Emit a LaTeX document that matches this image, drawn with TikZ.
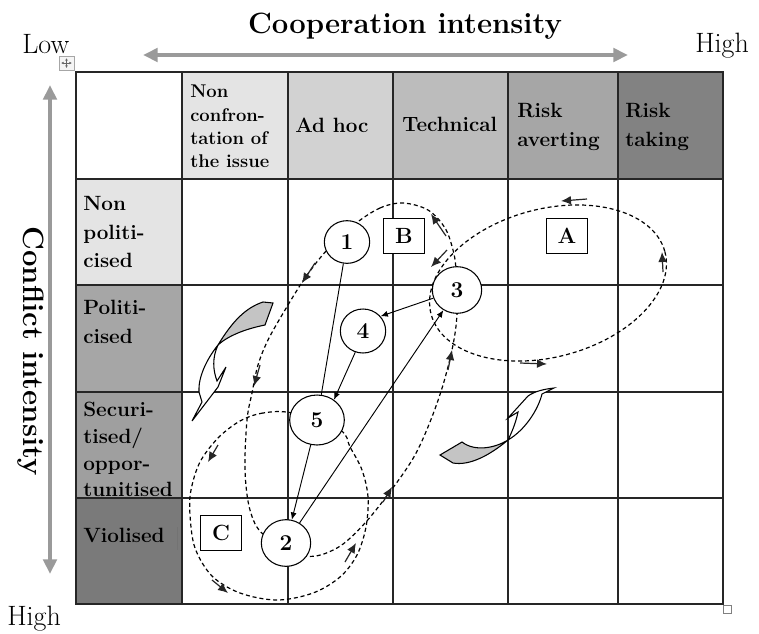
\documentclass[tikz,border=0pt]{standalone}
\usepackage{fontspec}
\usetikzlibrary{arrows.meta,shapes.geometric}
\definecolor{axisgray}{HTML}{9A9A9A}
\definecolor{lvlA}{HTML}{E4E4E4}
\definecolor{lvlB}{HTML}{D2D2D2}
\definecolor{lvlC}{HTML}{BCBCBC}
\definecolor{lvlD}{HTML}{A6A6A6}
\definecolor{lvlE}{HTML}{828282}
\definecolor{swoosh}{HTML}{C4C4C4}
\tikzset{
  gridline/.style={line width=1.1pt,black!85,line cap=rect},
  hdr/.style={font=\bfseries\fontsize{15.5}{22}\selectfont,align=left,anchor=north west,inner sep=0pt},
  stage/.style={ellipse,draw,fill=white,line width=0.8pt,inner sep=0pt,font=\bfseries\fontsize{17}{18}\selectfont},
  tagbox/.style={draw,fill=white,line width=1.2pt,minimum width=31pt,minimum height=26pt,inner sep=0pt,font=\bfseries\fontsize{16.5}{18}\selectfont},
  loopline/.style={line width=0.9pt,dash pattern=on 3pt off 2.2pt},
  looptip/.style={-{Latex[length=7.5pt,width=6.5pt]},line width=0.9pt,black!85},
  link/.style={line width=0.7pt},
  axisarrow/.style={{Triangle[length=11pt,width=10pt]}-{Triangle[length=11pt,width=10pt]},line width=3pt,axisgray}
}
\begin{document}
\begin{tikzpicture}[x=0.75pt,y=-0.75pt]
\useasboundingbox (0,0) rectangle (759,633);
\fill[white] (0,0) rectangle (759,633);
% shaded header cells
\foreach \xa/\xb/\c in {182/288/lvlA,288/393/lvlB,393/508/lvlC,508/618/lvlD,618/723/lvlE}
  \fill[\c] (\xa,72) rectangle (\xb,179);
\foreach \ya/\yb/\c in {179/285/lvlA,285/392/lvlD,392/498/lvlD!96!black,498/604/lvlE!94!black}
  \fill[\c] (76,\ya) rectangle (182,\yb);
\foreach \x in {76,182,288,393,508,618,723} \draw[gridline] (\x,72) -- (\x,604);
\foreach \y in {72,179,285,392,498,604} \draw[gridline] (76,\y) -- (723,\y);
% axes
\draw[axisarrow] (143,55) -- (628,55);
\draw[axisarrow] (50,85) -- (50,574);
\node[font=\bfseries\fontsize{22}{26}\selectfont,anchor=base,inner sep=0pt] (coop) at (405,33) {Cooperation intensity};
\node[font=\bfseries\fontsize{22}{26}\selectfont,anchor=base,inner sep=0pt,rotate=-90] (conf) at (23,351) {Conflict intensity};
\node[font=\fontsize{21}{24}\selectfont,anchor=base west,inner sep=0pt] (low) at (22,53) {Low};
\node[font=\fontsize{21}{24}\selectfont,anchor=base west,inner sep=0pt] (highC) at (695,52) {High};
\node[font=\fontsize{21}{24}\selectfont,anchor=base west,inner sep=0pt] (highK) at (7,625) {High};
% column and row headings
\node[hdr,font=\bfseries\fontsize{13.8}{17.5}\selectfont] (nonconf) at (190,85) {Non\\confron-\\tation of\\the issue};
\node[hdr] (adhoc) at (295,118) {Ad hoc};
\node[hdr] (technical) at (402,117) {Technical};
\node[hdr] (riskav) at (517,103) {Risk\\averting};
\node[hdr] (risktk) at (625,103) {Risk\\taking};
\node[hdr,font=\bfseries\fontsize{15.5}{21.5}\selectfont] (nonpol) at (83,196) {Non\\politi-\\cised};
\node[hdr,font=\bfseries\fontsize{15.5}{21.5}\selectfont] (pol) at (83,300) {Politi-\\cised};
\node[hdr,font=\bfseries\fontsize{15.5}{20}\selectfont] (sec) at (83,402) {Securi-\\tised/\\oppor-\\tunitised};
\node[hdr] (viol) at (83,528) {Violised};
\draw[black!55,line width=0.6pt] (177,527) -- (177,550);
% curved block arrows
\filldraw[fill=swoosh,line width=0.8pt] (218,345) .. controls (232,322) and (245,308) .. (263,302) -- (273,303) -- (265,325) .. controls (250,328) and (230,334) .. cycle;
\filldraw[fill=white,line width=0.8pt] (218,345) .. controls (206,360) and (198,378) .. (199,392) -- (202,402) -- (192,421) -- (218,387) -- (226,367) -- (217,381) .. controls (213,370) and (212,358) .. (218,345);
\filldraw[fill=swoosh,line width=0.8pt] (440,455) -- (462,442) .. controls (475,452) and (495,448) .. (508,440) .. controls (490,455) and (470,466) .. (453,463) -- cycle;
\filldraw[fill=white,line width=0.8pt] (508,440) .. controls (512,432) and (516,422) .. (518,412) -- (508,418) -- (528,396) .. controls (535,391) and (545,389) .. (554,388) -- (542,394) .. controls (538,410) and (525,430) .. (508,440);
% dashed cycles
\draw[loopline,rotate around={15:(548,283)}] (548,283) ellipse [x radius=121,y radius=74];
\draw[loopline] plot[smooth cycle,tension=0.55] coordinates {(355,224) (380,208) (403,203) (428,210) (445,228) (453,250) (456,270) (457,313) (453,345) (443,385) (430,422) (415,455) (395,485) (365,523) (337,548) (305,556) (264,535) (250,510) (245,470) (247,420) (252,393) (258,365) (268,340) (285,310) (305,278) (327,250)};
\draw[loopline] plot[smooth cycle,tension=0.55] coordinates {(292,413) (263,413) (240,421) (218,438) (200,462) (191,490) (190,515) (195,548) (212,576) (240,593) (277,600) (313,593) (340,577) (357,555) (366,527) (368,497) (362,470) (350,447) (340,430)};
% stages
\node[stage,minimum width=34pt,minimum height=32pt] (n1) at (347,242) {1};
\node[stage,minimum width=37pt,minimum height=35pt] (n2) at (286,543) {2};
\node[stage,minimum width=37pt,minimum height=35pt] (n3) at (457,290) {3};
\node[stage,minimum width=34pt,minimum height=33pt] (n4) at (363,331) {4};
\node[stage,minimum width=41pt,minimum height=37.5pt] (n5) at (317,420) {5};
\node[tagbox] (boxA) at (567,236) {A};
\node[tagbox] (boxB) at (404,236) {B};
\node[tagbox] (boxC) at (221,533) {C};
\draw[link] (n1) -- (n5);
\draw[link,-{Latex[length=5.5pt,width=4.5pt]}] (n5) -- (n2);
\draw[link,-{Latex[length=5.5pt,width=4.5pt]}] (n4.250) -- (n5.50);
\draw[link,-{Latex[length=5.5pt,width=4.5pt]}] (n3) -- (n4.40);
\draw[link,-{Latex[length=5.5pt,width=4.5pt]}] (n2) -- (n3);
% direction marks on the cycles
\foreach \xa/\ya/\xb/\yb in {587/199/561/201, 663/272/662/252, 520/363/547/364, 447/250/431/267,
  446/236/431/214, 315/263/302/283, 260/365/254/386, 383/502/392/487, 448/370/452/350,
  218/445/208/462, 212/580/228/593, 345/562/356/543}
  \draw[looptip] (\xa,\ya) -- (\xb,\yb);
% editor handles
\draw[black!35,fill=black!4,line width=0.5pt] (59,56) rectangle (74,70);
\draw[black!60,line width=0.4pt,{Latex[length=2pt,width=2pt]}-{Latex[length=2pt,width=2pt]}] (61,63) -- (72,63);
\draw[black!60,line width=0.4pt,{Latex[length=2pt,width=2pt]}-{Latex[length=2pt,width=2pt]}] (66.5,58) -- (66.5,68);
\draw[black!50,fill=white,line width=0.5pt] (723,605) rectangle (731,613);
\end{tikzpicture}
\end{document}
